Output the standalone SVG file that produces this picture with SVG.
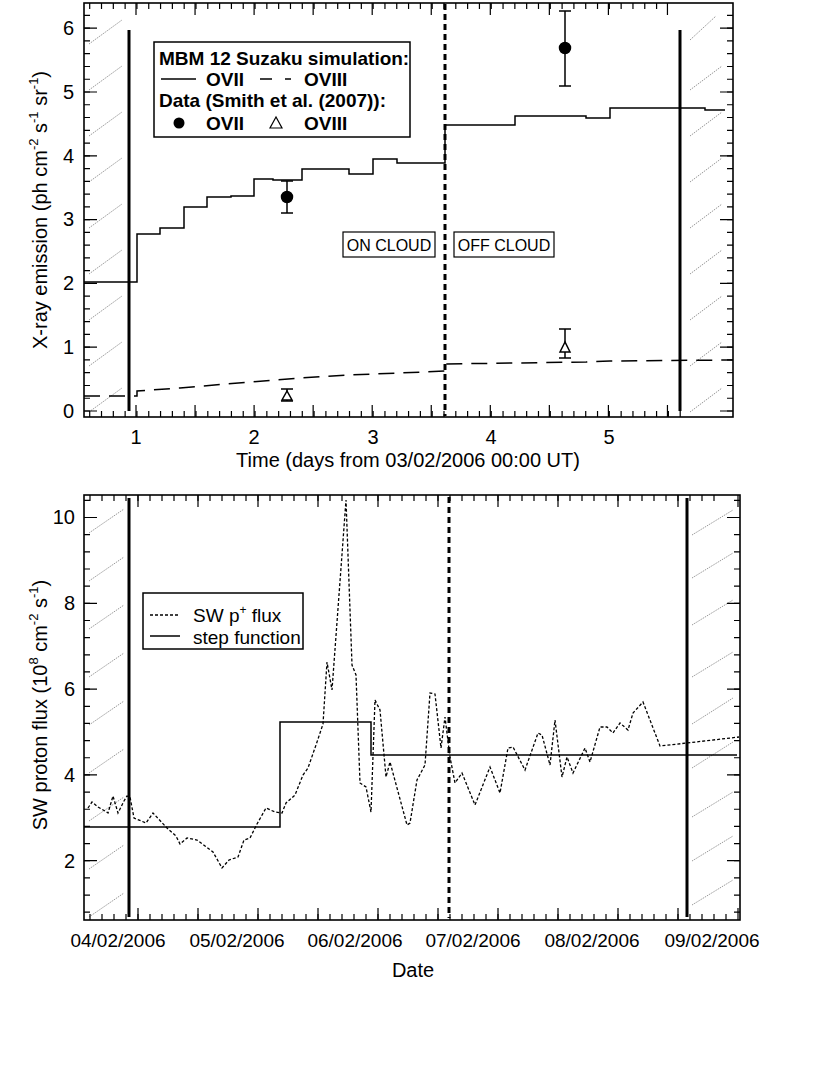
<svg xmlns="http://www.w3.org/2000/svg" width="830" height="1075" viewBox="0 0 830 1075">
<style>
text{font-family:"Liberation Sans",Arial,sans-serif;fill:#000}
.tl{font-size:20px}
.b{font-weight:bold;font-size:19px}
.frame{fill:none;stroke:#000;stroke-width:1.6}
.step{fill:none;stroke:#000;stroke-width:1.5}
.hat{stroke:#999;stroke-width:1;stroke-dasharray:1.5 1}
.tk{fill:none;stroke:#000;stroke-width:1.2}
</style>

<g id="top-plot">
  <g id="top-hatch">
    <line class="hat" x1="89" y1="412" x2="122" y2="388"/>
    <line class="hat" x1="89" y1="366" x2="122" y2="342"/>
    <line class="hat" x1="89" y1="320" x2="122" y2="296"/>
    <line class="hat" x1="89" y1="274" x2="122" y2="250"/>
    <line class="hat" x1="89" y1="228" x2="122" y2="204"/>
    <line class="hat" x1="89" y1="182" x2="122" y2="158"/>
    <line class="hat" x1="89" y1="136" x2="122" y2="112"/>
    <line class="hat" x1="89" y1="90" x2="122" y2="66"/>
    <line class="hat" x1="89" y1="44" x2="122" y2="20"/>
    <line class="hat" x1="690" y1="412" x2="722" y2="388"/>
    <line class="hat" x1="690" y1="366" x2="722" y2="342"/>
    <line class="hat" x1="690" y1="320" x2="722" y2="296"/>
    <line class="hat" x1="690" y1="274" x2="722" y2="250"/>
    <line class="hat" x1="690" y1="228" x2="722" y2="204"/>
    <line class="hat" x1="690" y1="182" x2="722" y2="158"/>
    <line class="hat" x1="690" y1="136" x2="722" y2="112"/>
    <line class="hat" x1="690" y1="90" x2="722" y2="66"/>
    <line class="hat" x1="690" y1="40" x2="716" y2="16"/>
  </g>
  <g id="top-ticks">
    <path class="tk" d="M89.7 417v-6m11.81 6v-6m11.81 6v-6m11.81 6v-6m11.81 6v-6m11.81 6v-6m11.81 6v-6m11.81 6v-6m11.81 6v-6m11.81 6v-6m11.81 6v-6m11.81 6v-6m11.81 6v-6m11.81 6v-6m11.81 6v-6m11.81 6v-6m11.81 6v-6m11.81 6v-6m11.81 6v-6m11.81 6v-6m11.81 6v-6m11.81 6v-6m11.81 6v-6m11.81 6v-6m11.81 6v-6m11.81 6v-6m11.81 6v-6m11.81 6v-6m11.81 6v-6m11.81 6v-6m11.81 6v-6m11.81 6v-6m11.81 6v-6m11.81 6v-6m11.81 6v-6m11.81 6v-6m11.81 6v-6m11.81 6v-6m11.81 6v-6m11.81 6v-6m11.81 6v-6m11.81 6v-6m11.81 6v-6m11.81 6v-6m11.81 6v-6m11.81 6v-6m11.81 6v-6m11.81 6v-6m11.81 6v-6m11.81 6v-6m11.81 6v-6"/>
    <path class="tk" d="M89.7 3v6m11.81 -6v6m11.81 -6v6m11.81 -6v6m11.81 -6v6m11.81 -6v6m11.81 -6v6m11.81 -6v6m11.81 -6v6m11.81 -6v6m11.81 -6v6m11.81 -6v6m11.81 -6v6m11.81 -6v6m11.81 -6v6m11.81 -6v6m11.81 -6v6m11.81 -6v6m11.81 -6v6m11.81 -6v6m11.81 -6v6m11.81 -6v6m11.81 -6v6m11.81 -6v6m11.81 -6v6m11.81 -6v6m11.81 -6v6m11.81 -6v6m11.81 -6v6m11.81 -6v6m11.81 -6v6m11.81 -6v6m11.81 -6v6m11.81 -6v6m11.81 -6v6m11.81 -6v6m11.81 -6v6m11.81 -6v6m11.81 -6v6m11.81 -6v6m11.81 -6v6m11.81 -6v6m11.81 -6v6m11.81 -6v6m11.81 -6v6m11.81 -6v6m11.81 -6v6m11.81 -6v6m11.81 -6v6"/>
    <path class="tk" d="M136 417v-12m59.05 12v-12m59.05 12v-12m59.05 12v-12m59.05 12v-12m59.05 12v-12m59.05 12v-12m59.05 12v-12m59.05 12v-12m59.05 12v-12M136 3v12m59.05 -12v12m59.05 -12v12m59.05 -12v12m59.05 -12v12m59.05 -12v12m59.05 -12v12m59.05 -12v12m59.05 -12v12m59.05 -12v12"/>
    <path class="tk" d="M84 411h6m-6 -12.76h6m-6 -12.76h6m-6 -12.76h6m-6 -12.76h6m-6 -12.76h6m-6 -12.76h6m-6 -12.76h6m-6 -12.76h6m-6 -12.76h6m-6 -12.76h6m-6 -12.76h6m-6 -12.76h6m-6 -12.76h6m-6 -12.76h6m-6 -12.76h6m-6 -12.76h6m-6 -12.76h6m-6 -12.76h6m-6 -12.76h6m-6 -12.76h6m-6 -12.76h6m-6 -12.76h6m-6 -12.76h6m-6 -12.76h6m-6 -12.76h6m-6 -12.76h6m-6 -12.76h6m-6 -12.76h6m-6 -12.76h6m-6 -12.76h6m-6 -12.76h6"/>
    <path class="tk" d="M733 411h-6m6 -12.76h-6m6 -12.76h-6m6 -12.76h-6m6 -12.76h-6m6 -12.76h-6m6 -12.76h-6m6 -12.76h-6m6 -12.76h-6m6 -12.76h-6m6 -12.76h-6m6 -12.76h-6m6 -12.76h-6m6 -12.76h-6m6 -12.76h-6m6 -12.76h-6m6 -12.76h-6m6 -12.76h-6m6 -12.76h-6m6 -12.76h-6m6 -12.76h-6m6 -12.76h-6m6 -12.76h-6m6 -12.76h-6m6 -12.76h-6m6 -12.76h-6m6 -12.76h-6m6 -12.76h-6m6 -12.76h-6m6 -12.76h-6m6 -12.76h-6m6 -12.76h-6"/>
    <path class="tk" d="M84 411h13m-13 -63.8h13m-13 -63.8h13m-13 -63.8h13m-13 -63.8h13m-13 -63.8h13m-13 -63.8h13M733 411h-13m13 -63.8h-13m13 -63.8h-13m13 -63.8h-13m13 -63.8h-13m13 -63.8h-13m13 -63.8h-13"/>
  </g>
  <rect class="frame" x="84" y="3" width="649" height="414"/>
  <g id="top-lines">
    <line x1="129" y1="30" x2="129" y2="411" stroke="#000" stroke-width="3"/>
    <line x1="680" y1="30" x2="680" y2="411" stroke="#000" stroke-width="3"/>
    <line x1="445" y1="4" x2="445" y2="416" stroke="#000" stroke-width="3" stroke-dasharray="6 4"/>
  </g>
  <path class="step" d="M84 282H137V234H160V228H184V207H207V197H231V196H254V179H273V180H302V169H349V174H373V159H397V163H445V125H515V116H586V118H610V108H705V110H725"/>
  <path class="step" stroke-dasharray="16 9" d="M84 396H137V391L180 388L250 382L300 378L350 375L400 373L445 371V364L515 363L586 362L610 361L733 360"/>
  <g id="data-points" stroke="#000" stroke-width="1.5" fill="none">
    <path d="M287 181V213M281 181H293M281 213H293"/>
    <circle cx="287" cy="197" r="5.5" fill="#000"/>
    <path d="M565 11V86M559 11H571M559 86H571"/>
    <circle cx="565" cy="48" r="5.5" fill="#000"/>
    <path d="M287 389V401M281 389H293M281 401H293"/>
    <path d="M287 391L282 400H292Z" fill="#fff"/>
    <path d="M565 329V358M559 329H571M559 358H571"/>
    <path d="M565 342L560 352H570Z" fill="#fff"/>
  </g>
  <g id="legend-top">
    <rect x="154" y="42" width="256" height="95" fill="#fff" stroke="#000" stroke-width="1.5"/>
    <text class="b" x="159" y="65">MBM 12 Suzaku simulation:</text>
    <line x1="161" y1="79" x2="196" y2="79" stroke="#000" stroke-width="1.5"/>
    <text class="b" x="206" y="86">OVII</text>
    <line x1="260" y1="79" x2="272" y2="79" stroke="#000" stroke-width="1.5"/>
    <line x1="285" y1="79" x2="291" y2="79" stroke="#000" stroke-width="1.5"/>
    <text class="b" x="304" y="86">OVIII</text>
    <text class="b" x="159" y="107">Data (Smith et al. (2007)):</text>
    <circle cx="179" cy="123" r="5.5" fill="#000"/>
    <path d="M276 117L270 128H282Z" fill="none" stroke="#000" stroke-width="1.2"/>
    <text class="b" x="206" y="130">OVII</text>
    <text class="b" x="304" y="130">OVIII</text>
  </g>
  <g id="cloud-labels">
    <rect x="343" y="232" width="92" height="25" fill="#fff" stroke="#000" stroke-width="1.2"/>
    <text x="389" y="251" font-size="16" text-anchor="middle">ON CLOUD</text>
    <rect x="454" y="232" width="100" height="25" fill="#fff" stroke="#000" stroke-width="1.2"/>
    <text x="504" y="251" font-size="16" text-anchor="middle">OFF CLOUD</text>
  </g>
  <g id="top-axis-labels" class="tl" text-anchor="end">
    <text x="74" y="418">0</text>
    <text x="74" y="354">1</text>
    <text x="74" y="290">2</text>
    <text x="74" y="226">3</text>
    <text x="74" y="163">4</text>
    <text x="74" y="99">5</text>
    <text x="74" y="35">6</text>
  </g>
  <g class="tl" text-anchor="middle">
    <text x="136" y="444">1</text>
    <text x="254" y="444">2</text>
    <text x="373" y="444">3</text>
    <text x="491" y="444">4</text>
    <text x="609" y="444">5</text>
    <text x="408" y="467">Time (days from 03/02/2006 00:00 UT)</text>
  </g>
  <text class="tl" transform="translate(47 210) rotate(-90)" text-anchor="middle">X-ray emission (ph cm<tspan font-size="13" dy="-9">-2</tspan><tspan dy="9"> s</tspan><tspan font-size="13" dy="-9">-1</tspan><tspan dy="9"> sr</tspan><tspan font-size="13" dy="-9">-1</tspan><tspan dy="9">)</tspan></text>
</g>

<g id="bottom-plot">
  <g id="bottom-hatch">
    <line class="hat" x1="89" y1="917" x2="124" y2="893"/>
    <line class="hat" x1="89" y1="869" x2="124" y2="845"/>
    <line class="hat" x1="89" y1="821" x2="124" y2="797"/>
    <line class="hat" x1="89" y1="773" x2="124" y2="749"/>
    <line class="hat" x1="89" y1="725" x2="124" y2="701"/>
    <line class="hat" x1="89" y1="677" x2="124" y2="653"/>
    <line class="hat" x1="89" y1="629" x2="124" y2="605"/>
    <line class="hat" x1="89" y1="581" x2="124" y2="557"/>
    <line class="hat" x1="89" y1="533" x2="124" y2="509"/>
    <line class="hat" x1="692" y1="905" x2="733" y2="880"/>
    <line class="hat" x1="692" y1="861" x2="733" y2="836"/>
    <line class="hat" x1="692" y1="817" x2="733" y2="792"/>
    <line class="hat" x1="692" y1="768" x2="733" y2="742"/>
    <line class="hat" x1="692" y1="724" x2="733" y2="698"/>
    <line class="hat" x1="692" y1="677" x2="733" y2="652"/>
    <line class="hat" x1="692" y1="625" x2="733" y2="600"/>
    <line class="hat" x1="692" y1="578" x2="733" y2="553"/>
    <line class="hat" x1="692" y1="535" x2="733" y2="510"/>
  </g>
  <g id="bottom-ticks">
    <path class="tk" d="M90 920v-6m12 6v-6m12 6v-6m12 6v-6m12 6v-6m12 6v-6m12 6v-6m12 6v-6m12 6v-6m12 6v-6m12 6v-6m12 6v-6m12 6v-6m12 6v-6m12 6v-6m12 6v-6m12 6v-6m12 6v-6m12 6v-6m12 6v-6m12 6v-6m12 6v-6m12 6v-6m12 6v-6m12 6v-6m12 6v-6m12 6v-6m12 6v-6m12 6v-6m12 6v-6m12 6v-6m12 6v-6m12 6v-6m12 6v-6m12 6v-6m12 6v-6m12 6v-6m12 6v-6m12 6v-6m12 6v-6m12 6v-6m12 6v-6m12 6v-6m12 6v-6m12 6v-6m12 6v-6m12 6v-6m12 6v-6m12 6v-6m12 6v-6m12 6v-6m12 6v-6m12 6v-6m12 6v-6"/>
    <path class="tk" d="M90 495v6m12 -6v6m12 -6v6m12 -6v6m12 -6v6m12 -6v6m12 -6v6m12 -6v6m12 -6v6m12 -6v6m12 -6v6m12 -6v6m12 -6v6m12 -6v6m12 -6v6m12 -6v6m12 -6v6m12 -6v6m12 -6v6m12 -6v6m12 -6v6m12 -6v6m12 -6v6m12 -6v6m12 -6v6m12 -6v6m12 -6v6m12 -6v6m12 -6v6m12 -6v6m12 -6v6m12 -6v6m12 -6v6m12 -6v6m12 -6v6m12 -6v6m12 -6v6m12 -6v6m12 -6v6m12 -6v6m12 -6v6m12 -6v6m12 -6v6m12 -6v6m12 -6v6m12 -6v6m12 -6v6m12 -6v6m12 -6v6m12 -6v6m12 -6v6m12 -6v6m12 -6v6"/>
    <path class="tk" d="M138 920v-12m60 12v-12m60 12v-12m60 12v-12m60 12v-12m60 12v-12m60 12v-12m60 12v-12m60 12v-12m60 12v-12m60 12v-12M138 495v12m60 -12v12m60 -12v12m60 -12v12m60 -12v12m60 -12v12m60 -12v12m60 -12v12m60 -12v12m60 -12v12m60 -12v12"/>
    <path class="tk" d="M84 912.2h6m-6 -17.16h6m-6 -17.16h6m-6 -17.16h6m-6 -17.16h6m-6 -17.16h6m-6 -17.16h6m-6 -17.16h6m-6 -17.16h6m-6 -17.16h6m-6 -17.16h6m-6 -17.16h6m-6 -17.16h6m-6 -17.16h6m-6 -17.16h6m-6 -17.16h6m-6 -17.16h6m-6 -17.16h6m-6 -17.16h6m-6 -17.16h6m-6 -17.16h6m-6 -17.16h6m-6 -17.16h6m-6 -17.16h6m-6 -17.16h6"/>
    <path class="tk" d="M740 912.2h-6m6 -17.16h-6m6 -17.16h-6m6 -17.16h-6m6 -17.16h-6m6 -17.16h-6m6 -17.16h-6m6 -17.16h-6m6 -17.16h-6m6 -17.16h-6m6 -17.16h-6m6 -17.16h-6m6 -17.16h-6m6 -17.16h-6m6 -17.16h-6m6 -17.16h-6m6 -17.16h-6m6 -17.16h-6m6 -17.16h-6m6 -17.16h-6m6 -17.16h-6m6 -17.16h-6m6 -17.16h-6m6 -17.16h-6m6 -17.16h-6"/>
    <path class="tk" d="M84 860.7h13m-13 -85.8h13m-13 -85.8h13m-13 -85.8h13m-13 -85.8h13M740 860.7h-13m13 -85.8h-13m13 -85.8h-13m13 -85.8h-13m13 -85.8h-13"/>
  </g>
  <rect class="frame" x="84" y="495" width="656" height="425"/>
  <g id="bottom-lines">
    <line x1="129" y1="498" x2="129" y2="917" stroke="#000" stroke-width="3"/>
    <line x1="687" y1="498" x2="687" y2="917" stroke="#000" stroke-width="3"/>
    <line x1="449" y1="497" x2="449" y2="918" stroke="#000" stroke-width="3" stroke-dasharray="6 4"/>
  </g>
  <path class="step" d="M84 827H280V722H371V755H737"/>
  <path fill="none" stroke="#000" stroke-width="1.3" stroke-dasharray="3 2" d="M88 808L92 802L98 807L105 811L108 813L113 796L118 813L124 801L127 796L130 797L134 818L146 823L153 813L167 828L176 836L180 844L187 838L197 840L205 846L213 852L222 868L229 860L238 857L244 840L250 838L257 824L266 808L275 812L282 813L286 803L295 795L303 775L308 768L316 745L323 724L327 662L332 690L346 500L352 665L356 675L360 783L366 787L371 812L375 700L380 710L386 777L390 762L407 825L410 823L417 780L425 765L430 693L435 694L441 748L445 717L450 757L455 783L462 773L475 805L490 767L500 793L508 748L513 747L525 770L538 733L542 735L550 765L555 720L562 777L567 757L573 773L585 748L590 762L600 727L607 727L613 733L620 723L628 730L633 713L643 702L660 746L687 743L739 737"/>
  <g id="legend-bottom">
    <rect x="143" y="593" width="160" height="56" fill="#fff" stroke="#000" stroke-width="1.5"/>
    <line x1="150" y1="615" x2="180" y2="615" stroke="#000" stroke-width="1.3" stroke-dasharray="3 2"/>
    <text x="193" y="622" font-size="19">SW p<tspan font-size="12" dy="-8">+</tspan><tspan dy="8"> flux</tspan></text>
    <line x1="150" y1="636" x2="180" y2="636" stroke="#000" stroke-width="1.5"/>
    <text x="193" y="644" font-size="19">step function</text>
  </g>
  <g class="tl" text-anchor="end">
    <text x="75" y="524">10</text>
    <text x="75" y="610">8</text>
    <text x="75" y="696">6</text>
    <text x="75" y="782">4</text>
    <text x="75" y="868">2</text>
  </g>
  <g text-anchor="middle" font-size="19">
    <text x="118" y="947">04/02/2006</text>
    <text x="237" y="947">05/02/2006</text>
    <text x="355" y="947">06/02/2006</text>
    <text x="473" y="947">07/02/2006</text>
    <text x="592" y="947">08/02/2006</text>
    <text x="712" y="947">09/02/2006</text>
    <text x="413" y="977" font-size="20">Date</text>
  </g>
  <text font-size="20" transform="translate(47 705) rotate(-90)" text-anchor="middle">SW proton flux (10<tspan font-size="13" dy="-9">8</tspan><tspan dy="9"> cm</tspan><tspan font-size="13" dy="-9">-2</tspan><tspan dy="9"> s</tspan><tspan font-size="13" dy="-9">-1</tspan><tspan dy="9">)</tspan></text>
</g>
</svg>
